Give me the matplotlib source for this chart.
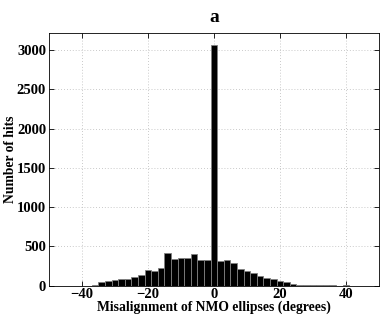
import matplotlib
matplotlib.use("Agg")
import matplotlib.pyplot as plt
import numpy as np

centers = [-48, -46, -44, -42, -40, -38, -36, -34, -32, -30, -28, -26, -24, -22,
           -20, -18, -16, -14, -12, -10, -8, -6, -4, -2, 0, 2, 4, 6, 8, 10, 12,
           14, 16, 18, 20, 22, 24, 26, 28, 30, 32, 34, 36, 38, 40, 42, 44, 46, 48]
counts = [0, 0, 0, 0, 0, 0, 15, 42, 60, 75, 83, 85, 107, 135,
          198, 185, 226, 415, 337, 353, 357, 401, 324, 324, 3070, 311, 328, 290, 217, 191, 158,
          120, 94, 82, 56, 43, 22, 12, 8, 8, 8, 8, 8, 0, 10, 0, 0, 0, 0]
xticks = [-40, -20, 0, 20, 40]
yticks = [0, 500, 1000, 1500, 2000, 2500, 3000]

plt.rcParams['font.family'] = ['Liberation Serif', 'DejaVu Serif']
plt.rcParams['font.weight'] = 'bold'

fig = plt.figure(figsize=(3.82, 3.18), dpi=100)
ax = fig.add_axes([0.128, 0.1016, 0.864, 0.7955])

ax.bar(centers, counts, width=2.0, color='black', edgecolor='#808080', linewidth=0.6, zorder=3)

ax.set_xlim(-50, 50)
ax.set_ylim(0, 1.05 * max(counts))
ax.set_xticks(xticks)
ax.set_yticks(yticks)
ax.set_xticklabels([str(t).replace('-', '\u2212') for t in xticks], fontsize=10.5, fontweight='bold')
ax.set_yticklabels([str(t) for t in yticks], fontsize=10.5, fontweight='bold')
ax.tick_params(direction='in', top=True, right=True, length=3.5, width=0.6, pad=2)
ax.grid(True, linestyle=(0, (1, 2.5)), color='#b8b8b8', linewidth=0.6, zorder=0)
for s in ax.spines.values():
    s.set_linewidth(0.6)

ax.set_xlabel('Misalignment of NMO ellipses (degrees)', fontsize=9.8, fontweight='bold', labelpad=-1)
ax.set_ylabel('Number of hits', fontsize=9.8, fontweight='bold', labelpad=0)
ax.set_title('a', fontsize=14, fontweight='bold', pad=8)

fig.savefig('out.png', dpi=100)
